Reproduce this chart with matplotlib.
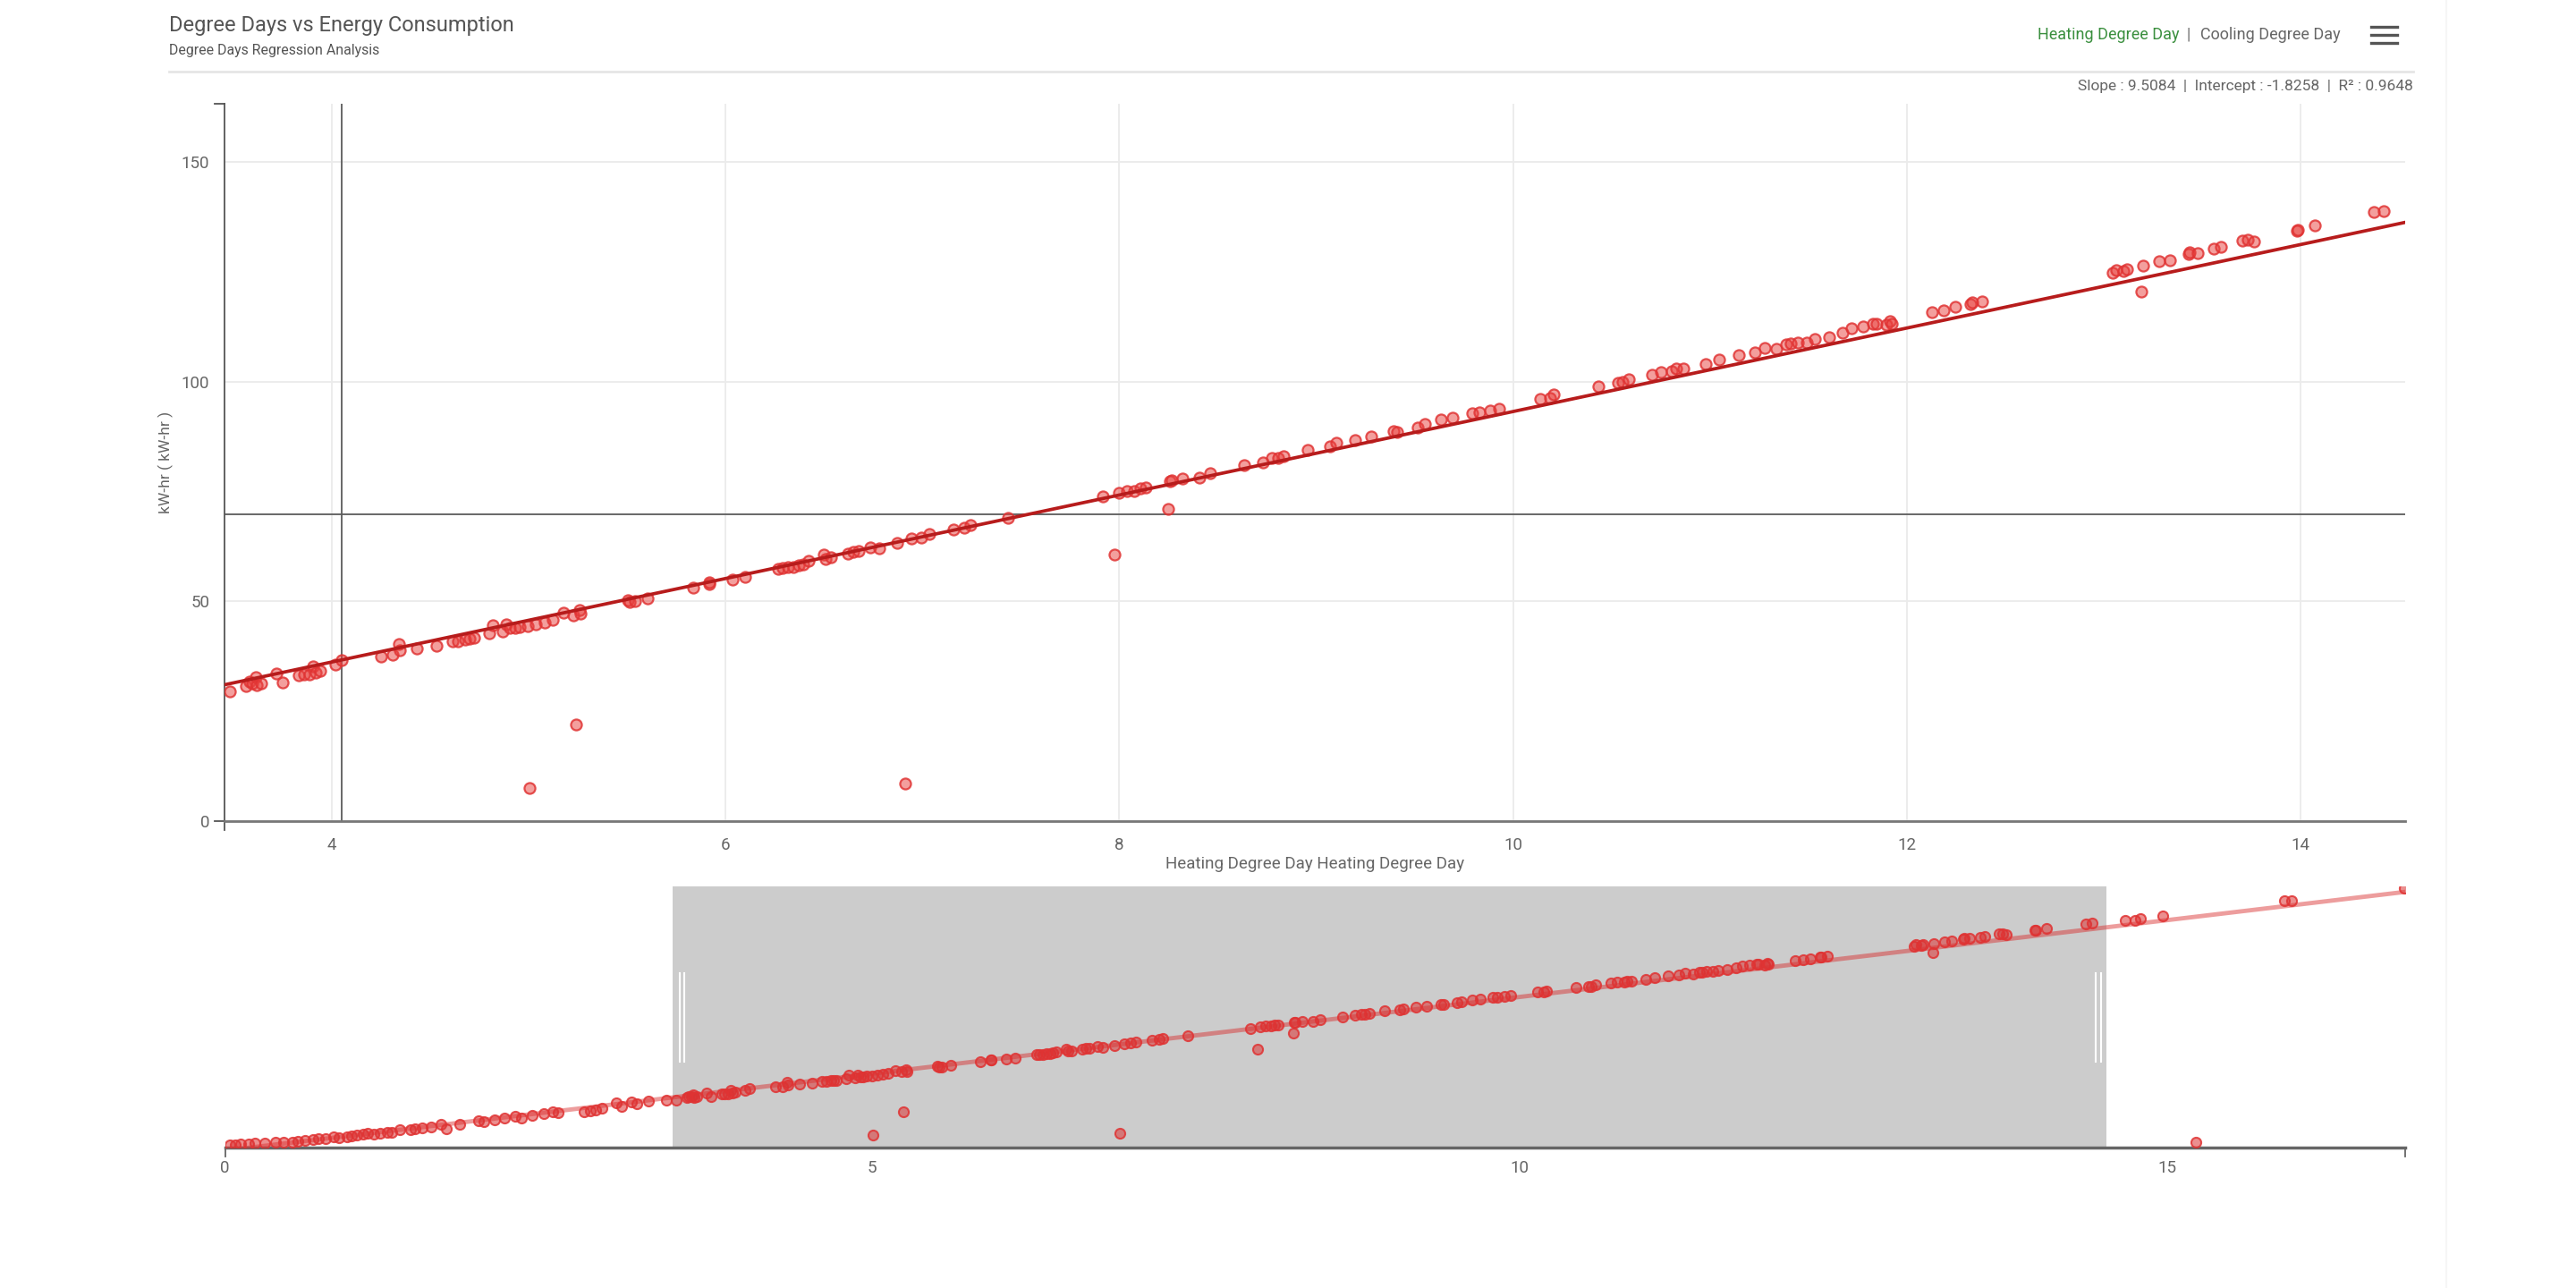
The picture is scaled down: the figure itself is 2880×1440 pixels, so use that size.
import matplotlib
matplotlib.use('Agg')

import matplotlib.pyplot as plt
from matplotlib.lines import Line2D
import numpy as np

plt.rcParams['font.family'] = ['Roboto', 'DejaVu Sans']

# heating degree day (x) and consumption kW-hr (y)
hdd = [0.04, 0.08, 0.12, 0.18, 0.23, 0.31, 0.39, 0.45, 0.52, 0.56, 0.62, 0.68, 0.72, 0.78, 0.84,
       0.88, 0.94, 0.98, 1.02, 1.07, 1.10, 1.15, 1.20, 1.25, 1.29, 1.35, 1.43, 1.47, 1.52, 1.59,
       1.67, 1.71, 1.81, 1.96, 2.00, 2.08, 2.16, 2.24, 2.29, 2.37, 2.46, 2.53, 2.57, 2.77, 2.82,
       2.86, 2.91, 3.02, 3.06, 3.14, 3.18, 3.27, 3.41,
       3.484, 3.566, 3.583, 3.600, 3.618, 3.621, 3.644, 3.722, 3.753, 3.835, 3.861, 3.887, 3.908,
       3.922, 3.943, 4.018, 4.053, 4.253, 4.310, 4.343, 4.348, 4.435, 4.535, 4.614, 4.644, 4.679,
       4.701, 4.722, 4.801, 4.821, 4.870, 4.888, 4.905, 4.931, 4.957, 4.997, 5.007, 5.036, 5.082,
       5.122, 5.180, 5.227, 5.240, 5.262, 5.265, 5.505, 5.514, 5.540, 5.606, 5.836, 5.917, 5.919,
       6.036, 6.100,
       6.267, 6.293, 6.319, 6.345, 6.371, 6.397, 6.424, 6.498, 6.510, 6.537, 6.624, 6.650, 6.676,
       6.737, 6.780, 6.871, 6.913, 6.945, 6.994, 7.038, 7.158, 7.215, 7.245, 7.436, 7.919, 7.977,
       7.998, 8.038, 8.076, 8.107, 8.137, 8.250, 8.259, 8.267, 8.323, 8.406, 8.462, 8.633, 8.728,
       8.775, 8.807, 8.836,
       8.959, 9.072, 9.102, 9.197, 9.281, 9.394, 9.411, 9.516, 9.554, 9.634, 9.693, 9.794, 9.829,
       9.885, 9.930, 10.139, 10.186, 10.208, 10.432, 10.533, 10.556, 10.586, 10.707, 10.751,
       10.806, 10.829, 10.864, 10.977, 11.046, 11.146, 11.229, 11.276, 11.337, 11.389, 11.412,
       11.447, 11.490, 11.534, 11.603,
       11.671, 11.717, 11.779, 11.829, 11.847, 11.894, 11.912, 11.922, 12.126, 12.187, 12.246,
       12.324, 12.330, 12.380, 13.044, 13.063, 13.100, 13.118, 13.189, 13.198, 13.280, 13.335,
       13.430, 13.437, 13.476, 13.560, 13.595, 13.703, 13.731, 13.762, 13.981, 13.987, 14.070,
       14.371, 14.423,
       14.68, 14.755, 14.797, 14.967, 15.22, 15.91, 15.96, 16.83]

kwh = [1.7, 1.9, 2.0, 2.3, 2.6, 3.0, 3.5, 3.2, 3.5, 4.0, 4.5, 4.8, 5.4, 5.7, 6.8,
       6.2, 6.7, 7.2, 7.5, 8.1, 8.7, 8.3, 8.9, 9.3, 9.6, 10.9, 11.3, 11.8, 12.4, 12.8,
       14.2, 11.8, 14.2, 16.4, 16.1, 17.4, 18.3, 19.2, 18.3, 20.1, 21.1, 22.0, 21.6, 22.0, 22.9,
       23.5, 24.4, 27.5, 25.7, 28.4, 27.2, 29.0, 29.4,
       29.6, 30.8, 31.8, 31.4, 32.8, 31.0, 31.4, 33.7, 31.6, 33.1, 33.4, 33.5, 35.2,
       33.9, 34.2, 35.6, 36.6, 37.4, 37.9, 40.3, 39.0, 39.3, 39.9, 40.9, 41.0, 41.3,
       41.5, 41.8, 42.7, 44.6, 43.2, 44.9, 44.0, 44.0, 44.2, 44.5, 7.6, 44.9, 45.2,
       45.9, 47.4, 46.8, 22.0, 48.1, 47.2, 50.3, 49.8, 50.0, 50.8, 53.1, 54.0, 54.4,
       54.9, 55.5,
       57.5, 57.6, 57.8, 57.9, 58.2, 58.5, 59.2, 60.7, 59.7, 60.0, 60.9, 61.3, 61.5,
       62.4, 62.2, 63.4, 8.6, 64.4, 64.6, 65.3, 66.3, 66.8, 67.5, 69.0, 73.9, 60.7,
       74.8, 75.1, 75.2, 75.7, 75.9, 71.1, 77.3, 77.6, 78.0, 78.2, 79.3, 81.0, 81.7,
       82.6, 82.7, 83.1,
       84.6, 85.4, 86.1, 86.7, 87.6, 88.8, 88.6, 89.7, 90.4, 91.4, 91.8, 92.8, 93.1,
       93.5, 93.9, 96.1, 96.3, 97.1, 99.0, 99.7, 99.9, 100.7, 101.7, 102.2,
       102.4, 103.1, 103.1, 104.0, 105.0, 106.1, 106.8, 107.8, 107.5, 108.5, 108.7,
       109.0, 109.0, 109.7, 110.2,
       111.2, 112.3, 112.7, 113.3, 113.3, 113.1, 113.9, 113.3, 115.8, 116.3, 117.1,
       117.8, 118.2, 118.4, 124.8, 125.5, 125.3, 125.7, 120.5, 126.5, 127.4, 127.7,
       129.1, 129.6, 129.4, 130.4, 130.8, 132.1, 132.4, 131.9, 134.4, 134.6, 135.6,
       138.6, 138.9,
       140.6, 140.6, 141.9, 143.2, 3.5, 152.6, 152.6, 160.7]

slope = 9.5084
intercept = -1.8258
r2 = 0.9648

main_xlim = (3.457, 14.53)
main_ylim = (0, 163.4)
main_xticks = [4, 6, 8, 10, 12, 14]
main_yticks = [0, 50, 100, 150]
nav_xlim = (0, 16.84)
nav_ylim = (0, 161.7)
nav_xticks = [0, 5, 10, 15]
crosshair_x = 4.05
crosshair_y = 69.9

W, H = 2880, 1440


def fx(px):
    return px / W


def fy(py):
    return 1 - py / H


fig = plt.figure(figsize=(W / 100, H / 100), dpi=100)
fig.patch.set_facecolor('white')

point_face = (0.91, 0.25, 0.24, 0.5)
point_edge = (0.88, 0.2, 0.2, 0.85)
label_col = '#666666'

# ---- main scatter
ax = fig.add_axes([fx(251), fy(918), (2689 - 251) / W, (918 - 115.7) / H])
ax.set_xlim(*main_xlim)
ax.set_ylim(*main_ylim)
ax.scatter(hdd, kwh, s=76, facecolor=point_face, edgecolor=point_edge, linewidth=1.6, zorder=3)
line_x = np.array(main_xlim)
ax.plot(line_x, slope * line_x + intercept, color='#b71c1c', lw=2.7, zorder=4)
ax.axvline(crosshair_x, color='#5c5c5c', lw=1.3, zorder=2)
ax.axhline(crosshair_y, color='#5c5c5c', lw=1.3, zorder=2)

ax.set_xticks(main_xticks)
ax.set_yticks(main_yticks)
ax.grid(color='#ebebeb', lw=1.3)
ax.set_axisbelow(True)
ax.tick_params(length=0, labelsize=13.5, labelcolor=label_col)
ax.tick_params(axis='x', pad=13)
ax.tick_params(axis='y', pad=12)
for s in ['top', 'right']:
    ax.spines[s].set_visible(False)
ax.spines['left'].set_color('#555555')
ax.spines['left'].set_linewidth(1.3)
ax.spines['bottom'].set_color('#777777')
ax.spines['bottom'].set_linewidth(2)
# small end marks of the y axis
ax.plot([-0.0045, 0], [1, 1], transform=ax.transAxes, color='#555555', lw=1.3, clip_on=False)
ax.plot([-0.0045, 0], [0, 0], transform=ax.transAxes, color='#555555', lw=1.3, clip_on=False)
ax.plot([0, 0], [0, -0.013], transform=ax.transAxes, color='#555555', lw=1.3, clip_on=False)

fig.text(fx(1470), fy(966), 'Heating Degree Day Heating Degree Day', ha='center', va='center',
         fontsize=13.5, color=label_col)
fig.text(fx(185), fy(517), 'kW-hr ( kW-hr )', ha='center', va='center', rotation=90,
         fontsize=12.5, color=label_col)

# ---- navigator
nav = fig.add_axes([fx(251.6), fy(1283), (2689 - 251.6) / W, (1283 - 991) / H])
nav.set_xlim(*nav_xlim)
nav.set_ylim(*nav_ylim)
nav.axvspan(main_xlim[0], main_xlim[1], color='#cccccc', zorder=0, lw=0)
nx = np.array(nav_xlim)
nav.plot(nx, slope * nx + intercept, color=(0.85, 0.15, 0.15, 0.45), lw=3.5, zorder=2)
nav.scatter(hdd, kwh, s=64, facecolor=(0.86, 0.2, 0.2, 0.55), edgecolor=point_edge,
            linewidth=1.5, zorder=3)
for hx in [3.53, 14.47]:
    for off in [-0.019, 0.019]:
        nav.plot([hx + off, hx + off], [53, 108], color='white', lw=1.5, zorder=5)
nav.set_xticks(nav_xticks)
nav.set_yticks([])
nav.tick_params(length=0, labelsize=13.5, labelcolor=label_col, pad=10)
for s in ['top', 'right', 'left']:
    nav.spines[s].set_visible(False)
nav.spines['bottom'].set_color('#666666')
nav.spines['bottom'].set_linewidth(2.5)
nav.plot([0, 0], [0, -0.035], transform=nav.transAxes, color='#666666', lw=1.3, clip_on=False)
nav.plot([1, 1], [0, -0.035], transform=nav.transAxes, color='#666666', lw=1.3, clip_on=False)

# ---- header
fig.text(fx(189), fy(29), 'Degree Days vs Energy Consumption', ha='left', va='center',
         fontsize=17, color='#555555')
fig.text(fx(189), fy(57), 'Degree Days Regression Analysis', ha='left', va='center',
         fontsize=11.4, color='#555555')
fig.add_artist(Line2D([fx(189), fx(2698)], [fy(80), fy(80)], color='#e6e6e6', lw=2))

fig.text(fx(2617), fy(39), 'Cooling Degree Day', ha='right', va='center', fontsize=13,
         color='#666666')
fig.text(fx(2447), fy(39), '|', ha='center', va='center', fontsize=13, color='#666666')
fig.text(fx(2437), fy(39), 'Heating Degree Day', ha='right', va='center', fontsize=13,
         color='#3a8f3e')
for hy in [30, 39, 48]:
    fig.add_artist(Line2D([fx(2651), fx(2680)], [fy(hy), fy(hy)], color='#555555', lw=2.4))

fig.text(fx(2698), fy(96),
         f'Slope : {slope:.4f}  |  Intercept : {intercept:.4f}  |  R\u00b2 : {r2:.4f}',
         ha='right', va='center', fontsize=12.5, color='#666666')

fig.add_artist(Line2D([fx(2735), fx(2735)], [0, 1], color='#f6f6f6', lw=1.5))

fig.savefig('out.png', dpi=100)
